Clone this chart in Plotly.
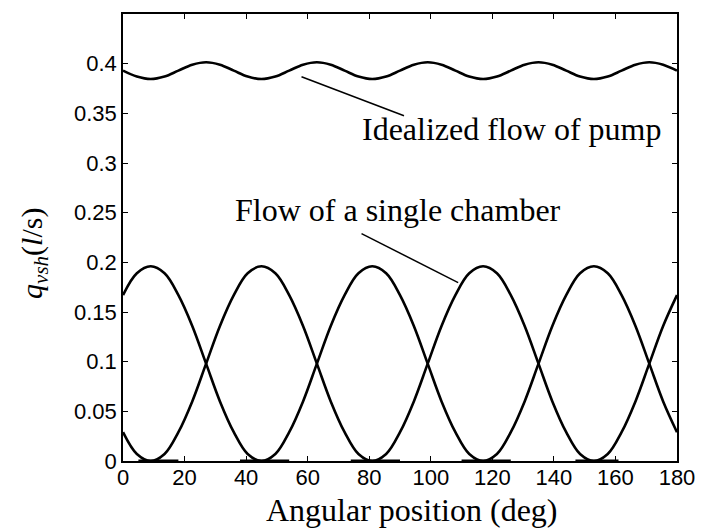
import plotly.graph_objects as go

# Angular position (deg)
angle = [0, 4.5, 9, 13.5, 18, 22.5, 27, 31.5, 36, 40.5, 45, 49.5, 54, 58.5, 63, 67.5,
         72, 76.5, 81, 85.5, 90, 94.5, 99, 103.5, 108, 112.5, 117, 121.5, 126, 130.5,
         135, 139.5, 144, 148.5, 153, 157.5, 162, 166.5, 171, 175.5, 180]

# Flow of a single chamber (two neighbouring chambers), l/s
chamber_a = [0.167, 0.189, 0.196, 0.189, 0.167, 0.136, 0.098, 0.060, 0.029, 0.007,
             0.000, 0.007, 0.029, 0.060, 0.098, 0.136, 0.167, 0.189, 0.196, 0.189,
             0.167, 0.136, 0.098, 0.060, 0.029, 0.007, 0.000, 0.007, 0.029, 0.060,
             0.098, 0.136, 0.167, 0.189, 0.196, 0.189, 0.167, 0.136, 0.098, 0.060, 0.029]
chamber_b = [0.029, 0.007, 0.000, 0.007, 0.029, 0.060, 0.098, 0.136, 0.167, 0.189,
             0.196, 0.189, 0.167, 0.136, 0.098, 0.060, 0.029, 0.007, 0.000, 0.007,
             0.029, 0.060, 0.098, 0.136, 0.167, 0.189, 0.196, 0.189, 0.167, 0.136,
             0.098, 0.060, 0.029, 0.007, 0.000, 0.007, 0.029, 0.060, 0.098, 0.136, 0.167]

# Idealized flow of pump, l/s
pump_flow = [0.393, 0.387, 0.3845, 0.387, 0.393, 0.399, 0.4015, 0.399,
             0.393, 0.387, 0.3845, 0.387, 0.393, 0.399, 0.4015, 0.399,
             0.393, 0.387, 0.3845, 0.387, 0.393, 0.399, 0.4015, 0.399,
             0.393, 0.387, 0.3845, 0.387, 0.393, 0.399, 0.4015, 0.399,
             0.393, 0.387, 0.3845, 0.387, 0.393, 0.399, 0.4015, 0.399, 0.393]

# zero-flow (suction) stretches lying on the axis
zero_start = [5, 38, 74, 110, 147]
zero_end = [18, 54, 90, 126, 161]

x_ticks = [0, 20, 40, 60, 80, 100, 120, 140, 160, 180]
y_ticks = [0, 0.05, 0.1, 0.15, 0.2, 0.25, 0.3, 0.35, 0.4]
y_tick_text = ["0", "0.05", "0.1", "0.15", "0.2", "0.25", "0.3", "0.35", "0.4"]

zx, zy = [], []
for s, e in zip(zero_start, zero_end):
    zx += [s, e, None]
    zy += [0, 0, None]

fig = go.Figure()
line_style = dict(color="black", width=2.6, shape="spline", smoothing=1.0)
fig.add_trace(go.Scatter(x=angle, y=chamber_a, mode="lines", line=line_style, showlegend=False))
fig.add_trace(go.Scatter(x=angle, y=chamber_b, mode="lines", line=line_style, showlegend=False))
fig.add_trace(go.Scatter(x=angle, y=pump_flow, mode="lines", line=line_style, showlegend=False))
fig.add_trace(go.Scatter(x=zx, y=zy, mode="lines", line=dict(color="black", width=3),
                         showlegend=False, cliponaxis=False))

tick_font = dict(family="Liberation Sans", size=22, color="black")
serif = "Liberation Serif"

axis_common = dict(showline=True, linecolor="black", linewidth=1.5, mirror="ticks",
                   ticks="inside", ticklen=5, tickwidth=1, tickcolor="black",
                   showgrid=False, zeroline=False, tickfont=tick_font)

fig.update_layout(
    width=707, height=528,
    margin=dict(l=123, r=22, t=13, b=67),
    paper_bgcolor="white", plot_bgcolor="white",
    xaxis=dict(range=[0, 180], tickmode="array", tickvals=x_ticks,
               ticklabelstandoff=-4, **axis_common),
    yaxis=dict(range=[0, 0.45], tickmode="array", tickvals=y_ticks, ticktext=y_tick_text,
               **axis_common),
)

# pointer lines
fig.add_shape(type="line", xref="x", yref="y", x0=58.0, y0=0.3868, x1=91.3, y1=0.3476,
              line=dict(color="black", width=1.5))
fig.add_shape(type="line", xref="x", yref="y", x0=77.5, y0=0.2289, x1=108.9, y1=0.1796,
              line=dict(color="black", width=1.5))

fig.add_annotation(x=76.9, y=0.3345, xref="x", yref="y", text="Idealized flow of pump",
                   showarrow=False, xanchor="left", yanchor="middle",
                   font=dict(family=serif, size=32, color="black"))
fig.add_annotation(x=35.9, y=0.253, xref="x", yref="y", text="Flow of a single chamber",
                   showarrow=False, xanchor="left", yanchor="middle",
                   font=dict(family=serif, size=32, color="black"))

# axis titles
fig.add_annotation(x=0.5214, y=-0.11, xref="paper", yref="paper",
                   text="Angular position (deg)", showarrow=False,
                   xanchor="center", yanchor="middle",
                   font=dict(family=serif, size=32, color="black"))
fig.add_annotation(x=-0.1619, y=0.464, xref="paper", yref="paper",
                   text="<i>q</i><sub><i>vsh</i></sub>(<i>l</i>/s)", showarrow=False,
                   textangle=-90, xanchor="center", yanchor="middle",
                   font=dict(family=serif, size=30, color="black"))

fig.write_html("out.html")
